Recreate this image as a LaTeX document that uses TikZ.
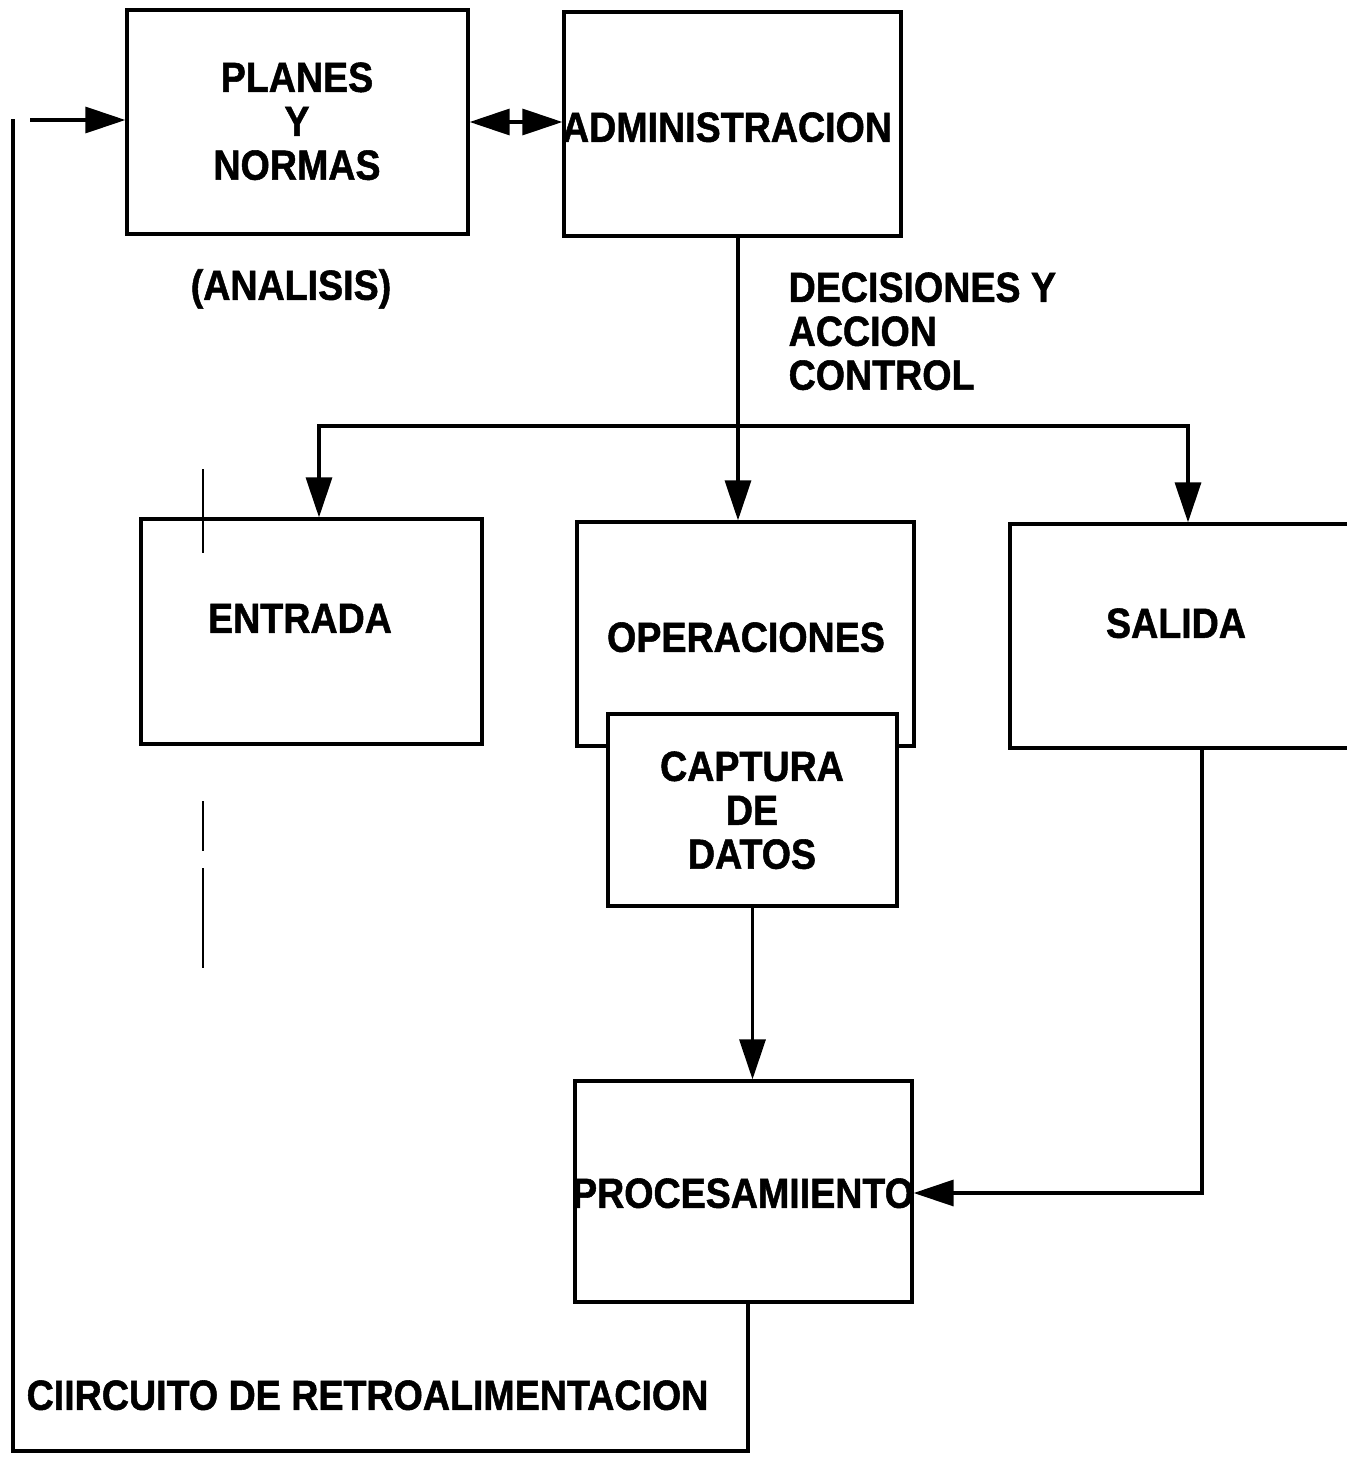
\documentclass[tikz,border=0pt]{standalone}
\usepackage{fontspec}
\usepackage{graphicx}
\setmainfont{Liberation Sans}[BoldFeatures={FakeBold=1.3}]
\usetikzlibrary{arrows.meta}
\newcommand\bxt[2][c]{\scalebox{1}[1.12]{\fontsize{18.8}{19.6}\selectfont\bfseries\begin{tabular}{@{}#1@{}}#2\end{tabular}}}
\begin{document}
\begin{tikzpicture}[x=0.5pt,y=-0.5pt,
  line width=1.65pt,
  >={Triangle[length=20pt,width=13pt]},
  box/.style={draw, line width=1.65pt, fill=white, inner sep=0pt},
  txt/.style={inner sep=0pt, yshift=-3pt},
  scanmark/.style={line width=0.9pt}]
\useasboundingbox (0,0) rectangle (1346,1457);
% boxes
\node[box, minimum width=170.5pt, minimum height=112pt] (planes) at (297.5,122) {};
\node[box, minimum width=168.5pt, minimum height=112pt] (admin) at (732.5,124) {};
\node[box, minimum width=170.5pt, minimum height=112.5pt] (entrada) at (311.5,631.5) {};
\node[box, minimum width=168.5pt, minimum height=112pt] (oper) at (745.5,634) {};
\node[box, minimum width=185pt, minimum height=112pt] (salida) at (1195,636) {};
\node[box, minimum width=144.5pt, minimum height=96pt] (captura) at (752.5,810) {};
\node[box, minimum width=168.5pt, minimum height=110.5pt] (proc) at (743.5,1191.5) {};
% texts
\node[txt] (tplanes) at (297,121) {\bxt{PLANES\\Y\\NORMAS}};
\node[txt] (tadmin) at (727,127) {\bxt{ADMINISTRACION}};
\node[txt] (tentrada) at (300,618) {\bxt{ENTRADA}};
\node[txt] (toper) at (746,637) {\bxt{OPERACIONES}};
\node[txt] (tsalida) at (1176,623) {\bxt{SALIDA}};
\node[txt] (tcaptura) at (752,810) {\bxt{CAPTURA\\DE\\DATOS}};
\node[txt] (tproc) at (743,1193) {\bxt{PROCESAMIIENTO}};
\node[txt] (tanalisis) at (291,285) {\bxt{(ANALISIS)}};
\node[txt, anchor=west] (tdec) at (787,331) {\bxt[l]{DECISIONES Y\\ACCION\\CONTROL}};
\node[txt] (tcirc) at (367.5,1395) {\bxt{CIIRCUITO DE RETROALIMENTACION}};
% coordinates
\coordinate (j) at (738,426);
\coordinate (eL) at (319,426);
\coordinate (sR) at (1188,426);
\coordinate (sc) at (1202,1193);
\coordinate (pb) at (748,1451);
\coordinate (lb) at (13,1451);
\coordinate (lt) at (13,119);
\coordinate (fa) at (30,120);
% connectors
\draw[<->] (planes.east) -- (planes.east -| admin.west);
\draw[->] (admin.south -| j) -- (oper.north -| j);
\draw[->] (j) -- (eL) -- (entrada.north -| eL);
\draw[->] (j) -- (sR) -- (salida.north -| sR);
\draw[->] (captura.south) -- (proc.north -| captura.south);
\draw[->] (salida.south -| sc) -- (sc) -- (proc.east |- sc);
\draw (proc.south -| pb) -- (pb) -- (lb) -- (lt);
\draw[->] (fa) -- (planes.west |- fa);
% scan marks
\draw[scanmark] (203,469) -- (203,553);
\draw[scanmark] (203,801) -- (203,851);
\draw[scanmark] (203,868) -- (203,968);
\end{tikzpicture}
\end{document}
